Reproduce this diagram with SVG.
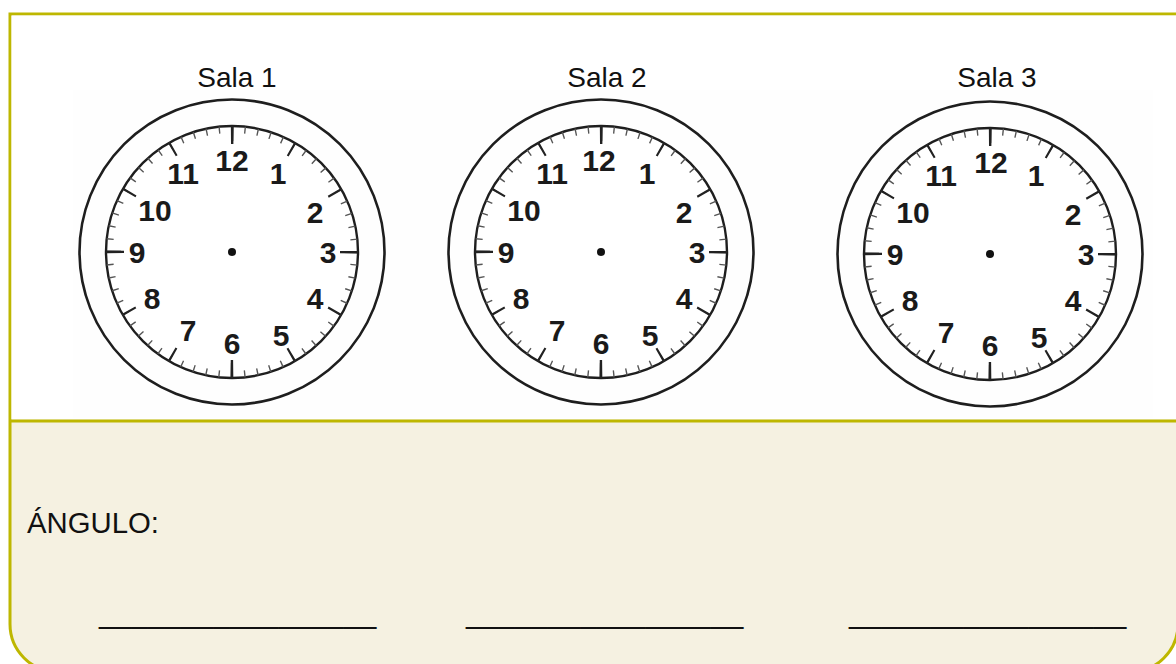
<svg xmlns="http://www.w3.org/2000/svg" width="1176" height="664" viewBox="0 0 1176 664">
<style>
.frame{stroke:#BEB700;stroke-width:3;}
.lbl{font-family:"Liberation Sans",Arial,sans-serif;font-size:28px;fill:#111;}
.big{font-family:"Liberation Sans",Arial,sans-serif;font-size:29.33px;fill:#111;}
.num{font-family:"Liberation Sans",Arial,sans-serif;font-size:30px;font-weight:bold;fill:#1a1a1a;text-anchor:middle;}
.ring{fill:none;stroke:#1e1e1e;stroke-width:2.6;}
.dial{fill:#fff;stroke:#1e1e1e;stroke-width:2.4;}
.mt{fill:none;stroke:#555;stroke-width:7;stroke-dasharray:1.4 11.428;stroke-dashoffset:0.7;}
.ht{fill:none;stroke:#222;stroke-width:15;stroke-dasharray:2.2 59.847;stroke-dashoffset:1.1;}
.qt{fill:none;stroke:#222;stroke-width:18;stroke-dasharray:2.6 181.18;stroke-dashoffset:1.3;}
</style>
<defs>
<g id="face">
<circle class="ring" cx="0" cy="0" r="152.5"/>
<circle class="dial" cx="0" cy="0" r="126"/>
<circle class="mt" cx="0" cy="0" r="122.5"/>
<circle class="ht" cx="0" cy="0" r="118.5"/>
<circle class="qt" cx="0" cy="0" r="117"/>
<circle cx="0" cy="0" r="4" fill="#111"/>
</g>
</defs>
<g id="panel">
<path d="M10,14 H1178 V624 A48,48 0 0 1 1130,672 H58 A48,48 0 0 1 10,624 Z" fill="#F5F1E1" class="frame"/>
<rect x="11.5" y="15.5" width="1166" height="404" fill="#fff"/>
<rect x="73" y="90" width="1080" height="328" fill="#FEFEFE"/>
<line x1="10" y1="421" x2="1178" y2="421" class="frame"/>
</g>
<g id="clock1" transform="translate(232,252)">
<use href="#face"/>
<text class="num" x="0" y="-81">12</text>
<text class="num" x="46" y="-68">1</text>
<text class="num" x="83" y="-29">2</text>
<text class="num" x="96" y="11">3</text>
<text class="num" x="83" y="57">4</text>
<text class="num" x="49" y="94">5</text>
<text class="num" x="0" y="102">6</text>
<text class="num" x="-44" y="89">7</text>
<text class="num" x="-80" y="57">8</text>
<text class="num" x="-95" y="11">9</text>
<text class="num" x="-77" y="-31">10</text>
<text class="num" x="-49" y="-68">11</text>
</g>
<g id="clock2" transform="translate(601,252)">
<use href="#face"/>
<text class="num" x="-2" y="-81">12</text>
<text class="num" x="46" y="-68">1</text>
<text class="num" x="83" y="-29">2</text>
<text class="num" x="96" y="11">3</text>
<text class="num" x="83" y="57">4</text>
<text class="num" x="49" y="94">5</text>
<text class="num" x="0" y="102">6</text>
<text class="num" x="-44" y="89">7</text>
<text class="num" x="-80" y="57">8</text>
<text class="num" x="-95" y="11">9</text>
<text class="num" x="-77" y="-31">10</text>
<text class="num" x="-49" y="-68">11</text>
</g>
<g id="clock3" transform="translate(990,254)">
<use href="#face"/>
<text class="num" x="1" y="-81">12</text>
<text class="num" x="46" y="-68">1</text>
<text class="num" x="83" y="-29">2</text>
<text class="num" x="96" y="11">3</text>
<text class="num" x="83" y="57">4</text>
<text class="num" x="49" y="94">5</text>
<text class="num" x="0" y="102">6</text>
<text class="num" x="-44" y="89">7</text>
<text class="num" x="-80" y="57">8</text>
<text class="num" x="-95" y="11">9</text>
<text class="num" x="-77" y="-31">10</text>
<text class="num" x="-49" y="-68">11</text>
</g>
<g id="labels">
<text class="lbl" x="237" y="87" text-anchor="middle">Sala 1</text>
<text class="lbl" x="607" y="87" text-anchor="middle">Sala 2</text>
<text class="lbl" x="997" y="87" text-anchor="middle">Sala 3</text>
<text class="big" x="27" y="533">ÁNGULO:</text>
<text class="big" x="99" y="623">_________________</text>
<text class="big" x="466" y="623">_________________</text>
<text class="big" x="849" y="623">_________________</text>
</g>
<g id="connectors"/>
</svg>
